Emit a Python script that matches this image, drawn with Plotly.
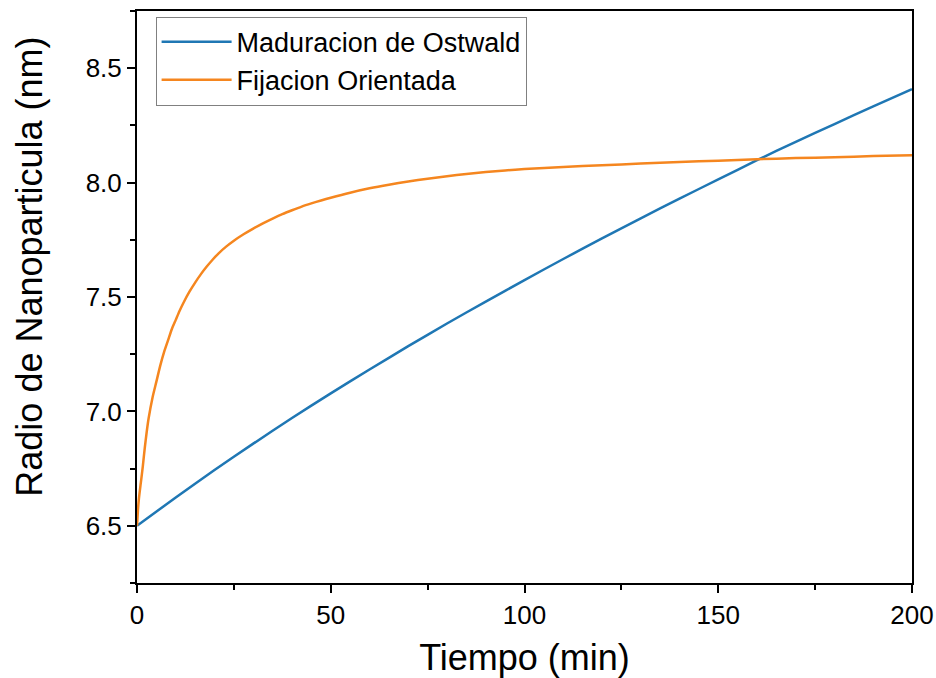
import plotly.graph_objects as go

# Tiempo (min)
t_ostwald = [0, 10, 20, 30, 40, 50, 60, 70, 80, 90, 100, 110, 120, 130, 140, 150, 160, 170, 180, 190, 200]
r_ostwald = [6.500, 6.624, 6.744, 6.859, 6.971, 7.079, 7.183, 7.285, 7.384, 7.480, 7.574,
             7.666, 7.756, 7.844, 7.930, 8.014, 8.098, 8.178, 8.256, 8.333, 8.408]

t_fijacion = [0, 0.25, 0.5, 1, 1.5, 2, 2.5, 3, 4, 5, 6, 7, 8, 9, 10, 11, 12, 13.5, 15, 16.5, 18, 19.5,
              21, 23, 25, 27.5, 30, 32.5, 35, 37.5, 40, 42.5, 45, 47.5, 50, 55, 60, 65, 70, 75, 80,
              85, 90, 95, 100, 110, 120, 130, 140, 150, 160, 170, 180, 190, 200]
r_fijacion = [6.50, 6.57, 6.62, 6.69, 6.76, 6.84, 6.91, 6.97, 7.06, 7.13, 7.20, 7.26, 7.31, 7.36,
              7.40, 7.44, 7.475, 7.522, 7.563, 7.600, 7.633, 7.663, 7.690, 7.720, 7.746, 7.774,
              7.799, 7.822, 7.843, 7.862, 7.879, 7.895, 7.909, 7.922, 7.934, 7.956, 7.975, 7.991,
              8.005, 8.017, 8.028, 8.038, 8.046, 8.053, 8.059, 8.068, 8.076, 8.083, 8.090, 8.096,
              8.102, 8.107, 8.111, 8.116, 8.120]

x_ticks = [0, 50, 100, 150, 200]
y_ticks = [6.5, 7.0, 7.5, 8.0, 8.5]

x_title = "Tiempo (min)"
y_title = "Radio de Nanoparticula (nm)"

fig = go.Figure()
fig.add_trace(go.Scatter(x=t_ostwald, y=r_ostwald, mode="lines", name="Maduracion de Ostwald",
                         line=dict(color="#1f77b4", width=2.5, shape="spline", smoothing=0.6)))
fig.add_trace(go.Scatter(x=t_fijacion, y=r_fijacion, mode="lines", name="Fijacion Orientada",
                         line=dict(color="#f5861f", width=2.5, shape="spline", smoothing=0.6)))

font_family = "Liberation Sans, Arial, sans-serif"
fig.update_layout(
    width=936, height=678,
    margin=dict(l=137, r=24, t=11, b=95, autoexpand=False),
    paper_bgcolor="white", plot_bgcolor="white",
    font=dict(family=font_family, color="black"),
    showlegend=True,
    legend=dict(x=0.024, y=0.99, xanchor="left", yanchor="top",
                bgcolor="white", bordercolor="#808080", borderwidth=1,
                font=dict(size=27, family=font_family, color="black"),
                itemwidth=70, tracegroupgap=0),
)
fig.update_xaxes(
    range=[0, 200], tickvals=x_ticks, ticktext=[str(v) for v in x_ticks],
    showline=True, linecolor="black", linewidth=2, mirror=True,
    ticks="outside", ticklen=8, tickwidth=1.5, tickcolor="black",
    minor=dict(ticks="outside", ticklen=5, tickwidth=1.5, tickcolor="black", dtick=25, tick0=0),
    showgrid=False, zeroline=False, automargin=False,
    tickfont=dict(size=26, family=font_family, color="black"),
    title=dict(text=x_title, font=dict(size=36, family=font_family, color="black"), standoff=23),
)
fig.update_yaxes(
    range=[6.25, 8.75], tickvals=y_ticks, ticktext=["%.1f" % v for v in y_ticks],
    showline=True, linecolor="black", linewidth=2, mirror=True,
    ticks="outside", ticklen=8, tickwidth=1.5, tickcolor="black",
    minor=dict(ticks="outside", ticklen=5, tickwidth=1.5, tickcolor="black", dtick=0.25, tick0=0),
    showgrid=False, zeroline=False, automargin=False,
    tickfont=dict(size=26, family=font_family, color="black"),
)
fig.add_annotation(
    text=y_title, textangle=-90, xref="paper", yref="paper",
    x=0, y=0.553, xanchor="center", yanchor="middle", xshift=-107, showarrow=False,
    font=dict(size=36, family=font_family, color="black"),
)

fig.write_html("out.html")
